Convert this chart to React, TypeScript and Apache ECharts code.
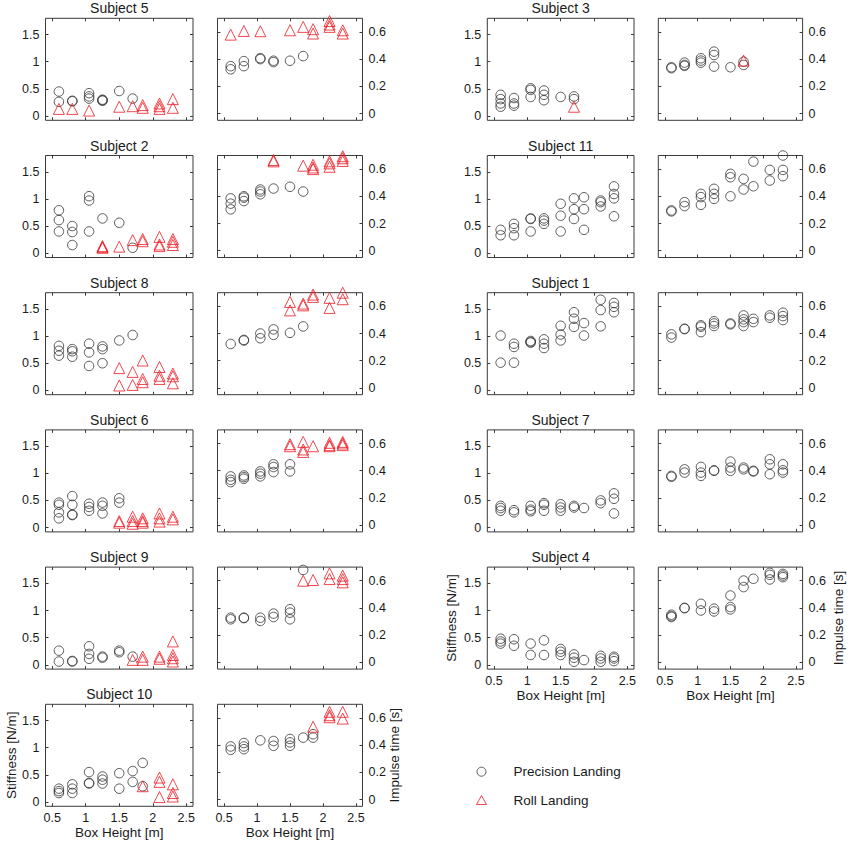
import React, { useEffect, useRef } from 'react';
import * as echarts from 'echarts';

type Pt = [number, number];

// Tick values
const boxHeightTicks = [0.5, 1, 1.5, 2, 2.5];
const stiffnessTicks = [0, 0.5, 1, 1.5];
const impulseTicks = [0, 0.2, 0.4, 0.6];

// ---- Subject 5
const s5PS: Pt[] = [[0.6,0.45],[0.6,0.26],[0.8,0.28],[0.8,0.27],[1.05,0.42],[1.05,0.36],[1.05,0.32],[1.25,0.30],[1.25,0.28],[1.25,0.29],[1.5,0.46],[1.7,0.32]];
const s5RS: Pt[] = [[0.6,0.13],[0.8,0.13],[1.05,0.10],[1.5,0.17],[1.7,0.18],[1.85,0.20],[1.85,0.15],[2.1,0.23],[2.1,0.18],[2.1,0.13],[2.3,0.31],[2.3,0.15]];
const s5PI: Pt[] = [[0.6,0.348],[0.6,0.325],[0.8,0.385],[0.8,0.348],[1.05,0.407],[1.05,0.40],[1.25,0.388],[1.25,0.378],[1.5,0.388],[1.7,0.422]];
const s5RI: Pt[] = [[0.6,0.58],[0.8,0.607],[1.05,0.605],[1.5,0.612],[1.7,0.637],[1.85,0.62],[1.85,0.588],[2.1,0.68],[2.1,0.654],[2.1,0.637],[2.3,0.612],[2.3,0.588]];

// ---- Subject 2
const s2PS: Pt[] = [[0.6,0.79],[0.6,0.61],[0.6,0.40],[0.8,0.50],[0.8,0.39],[0.8,0.15],[1.05,1.05],[1.05,0.97],[1.05,0.40],[1.25,0.64],[1.5,0.56],[1.7,0.10]];
const s2RS: Pt[] = [[1.25,0.13],[1.25,0.10],[1.25,0.11],[1.5,0.12],[1.7,0.24],[1.85,0.26],[1.85,0.22],[2.1,0.30],[2.1,0.16],[2.1,0.13],[2.3,0.26],[2.3,0.21],[2.3,0.15]];
const s2PI: Pt[] = [[0.6,0.385],[0.6,0.346],[0.6,0.304],[0.8,0.40],[0.8,0.39],[0.8,0.365],[1.05,0.45],[1.05,0.435],[1.05,0.415],[1.25,0.457],[1.5,0.47],[1.7,0.435]];
const s2RI: Pt[] = [[1.25,0.667],[1.25,0.657],[1.7,0.625],[1.85,0.632],[1.85,0.612],[1.85,0.60],[2.1,0.657],[2.1,0.642],[2.1,0.617],[2.3,0.695],[2.3,0.68],[2.3,0.66]];

// ---- Subject 8
const s8PS: Pt[] = [[0.6,0.82],[0.6,0.73],[0.6,0.64],[0.8,0.76],[0.8,0.72],[0.8,0.62],[1.05,0.86],[1.05,0.70],[1.05,0.45],[1.25,0.81],[1.25,0.76],[1.25,0.50],[1.5,0.92],[1.7,1.02]];
const s8RS: Pt[] = [[1.5,0.41],[1.5,0.09],[1.7,0.34],[1.7,0.10],[1.85,0.55],[1.85,0.21],[1.85,0.15],[2.1,0.43],[2.1,0.27],[2.1,0.21],[2.3,0.31],[2.3,0.26],[2.3,0.13]];
const s8PI: Pt[] = [[0.6,0.323],[0.8,0.353],[0.8,0.348],[1.05,0.40],[1.05,0.365],[1.25,0.43],[1.25,0.39],[1.5,0.405],[1.7,0.452]];
const s8RI: Pt[] = [[1.5,0.632],[1.5,0.57],[1.7,0.62],[1.7,0.607],[1.85,0.686],[1.85,0.669],[2.1,0.662],[2.1,0.588],[2.3,0.70],[2.3,0.652]];

// ---- Subject 6
const s6PS: Pt[] = [[0.6,0.46],[0.6,0.42],[0.6,0.28],[0.6,0.17],[0.8,0.58],[0.8,0.42],[0.8,0.23],[0.8,0.24],[1.05,0.44],[1.05,0.38],[1.05,0.31],[1.25,0.46],[1.25,0.40],[1.25,0.26],[1.5,0.54],[1.5,0.46]];
const s6RS: Pt[] = [[1.5,0.12],[1.5,0.09],[1.7,0.20],[1.7,0.12],[1.7,0.07],[1.85,0.17],[1.85,0.12],[1.85,0.09],[2.1,0.26],[2.1,0.17],[2.1,0.11],[2.3,0.20],[2.3,0.15]];
const s6PI: Pt[] = [[0.6,0.358],[0.6,0.333],[0.6,0.316],[0.8,0.365],[0.8,0.353],[0.8,0.341],[1.05,0.395],[1.05,0.378],[1.05,0.358],[1.25,0.447],[1.25,0.427],[1.25,0.39],[1.5,0.447],[1.5,0.395]];
const s6RI: Pt[] = [[1.5,0.595],[1.5,0.58],[1.7,0.612],[1.7,0.556],[1.7,0.538],[1.85,0.58],[2.1,0.605],[2.1,0.588],[2.1,0.58],[2.3,0.612],[2.3,0.60],[2.3,0.588]];

// ---- Subject 9
const s9PS: Pt[] = [[0.6,0.26],[0.6,0.06],[0.8,0.06],[0.8,0.07],[1.05,0.34],[1.05,0.20],[1.05,0.11],[1.25,0.15],[1.25,0.13],[1.5,0.26],[1.5,0.23],[1.7,0.15]];
const s9RS: Pt[] = [[1.7,0.09],[1.85,0.15],[1.85,0.09],[2.1,0.15],[2.1,0.11],[2.3,0.43],[2.3,0.18],[2.3,0.12],[2.3,0.06]];
const s9PI: Pt[] = [[0.6,0.328],[0.6,0.316],[0.8,0.328],[0.8,0.325],[1.05,0.328],[1.05,0.304],[1.25,0.358],[1.25,0.333],[1.5,0.39],[1.5,0.365],[1.5,0.316],[1.7,0.679]];
const s9RI: Pt[] = [[1.7,0.60],[1.85,0.605],[2.1,0.654],[2.1,0.612],[2.3,0.637],[2.3,0.612],[2.3,0.588]];

// ---- Subject 10
const s10PS: Pt[] = [[0.6,0.245],[0.6,0.20],[0.6,0.165],[0.8,0.325],[0.8,0.245],[0.8,0.165],[1.05,0.55],[1.05,0.34],[1.05,0.35],[1.25,0.47],[1.25,0.41],[1.25,0.34],[1.5,0.53],[1.5,0.245],[1.7,0.57],[1.7,0.37],[1.85,0.72],[1.85,0.29]];
const s10RS: Pt[] = [[1.85,0.29],[2.1,0.45],[2.1,0.37],[2.1,0.09],[2.3,0.325],[2.3,0.165],[2.3,0.10]];
const s10PI: Pt[] = [[0.6,0.39],[0.6,0.365],[0.8,0.415],[0.8,0.39],[0.8,0.37],[1.05,0.435],[1.25,0.43],[1.25,0.395],[1.5,0.445],[1.5,0.42],[1.5,0.395],[1.7,0.455],[1.85,0.48],[1.85,0.455]];
const s10RI: Pt[] = [[1.85,0.535],[2.1,0.645],[2.1,0.62],[2.1,0.605],[2.3,0.645],[2.3,0.595]];

// ---- Subject 3
const s3PS: Pt[] = [[0.6,0.39],[0.6,0.31],[0.6,0.23],[0.6,0.17],[0.8,0.33],[0.8,0.23],[0.8,0.19],[1.05,0.51],[1.05,0.48],[1.05,0.35],[1.25,0.47],[1.25,0.39],[1.25,0.29],[1.5,0.35],[1.7,0.36],[1.7,0.31]];
const s3RS: Pt[] = [[1.7,0.17]];
const s3PI: Pt[] = [[0.6,0.34],[0.6,0.333],[0.8,0.374],[0.8,0.357],[0.8,0.35],[1.05,0.406],[1.05,0.389],[1.05,0.374],[1.25,0.455],[1.25,0.43],[1.25,0.345],[1.5,0.34],[1.7,0.381],[1.7,0.357]];
const s3RI: Pt[] = [[1.7,0.389]];

// ---- Subject 11
const s11PS: Pt[] = [[0.6,0.43],[0.6,0.33],[0.8,0.54],[0.8,0.46],[0.8,0.33],[1.05,0.64],[1.05,0.63],[1.05,0.40],[1.25,0.64],[1.25,0.60],[1.25,0.54],[1.5,0.91],[1.5,0.69],[1.5,0.40],[1.7,1.01],[1.7,0.81],[1.7,0.63],[1.85,1.03],[1.85,0.81],[1.85,0.43],[2.1,0.97],[2.1,0.94],[2.1,0.86],[2.3,1.23],[2.3,1.09],[2.3,1.01],[2.3,0.68]];
const s11RS: Pt[] = [];
const s11PI: Pt[] = [[0.6,0.296],[0.6,0.289],[0.8,0.357],[0.8,0.328],[1.05,0.418],[1.05,0.394],[1.05,0.337],[1.25,0.455],[1.25,0.418],[1.25,0.381],[1.5,0.565],[1.5,0.54],[1.5,0.40],[1.7,0.528],[1.7,0.45],[1.85,0.655],[1.85,0.474],[2.1,0.594],[2.1,0.516],[2.3,0.70],[2.3,0.594],[2.3,0.548]];
const s11RI: Pt[] = [];

// ---- Subject 1
const s1PS: Pt[] = [[0.6,1.01],[0.6,0.51],[0.8,0.86],[0.8,0.80],[0.8,0.51],[1.05,0.91],[1.05,0.88],[1.05,0.89],[1.25,0.94],[1.25,0.86],[1.25,0.78],[1.5,1.19],[1.5,1.03],[1.5,0.92],[1.7,1.44],[1.7,1.32],[1.7,1.17],[1.85,1.24],[1.85,1.01],[2.1,1.67],[2.1,1.48],[2.1,1.18],[2.3,1.61],[2.3,1.54],[2.3,1.44]];
const s1RS: Pt[] = [];
const s1PI: Pt[] = [[0.6,0.394],[0.6,0.37],[0.8,0.435],[0.8,0.432],[1.05,0.46],[1.05,0.45],[1.05,0.41],[1.25,0.49],[1.25,0.474],[1.25,0.455],[1.5,0.474],[1.5,0.467],[1.7,0.533],[1.7,0.504],[1.7,0.484],[1.7,0.455],[1.85,0.508],[1.85,0.484],[2.1,0.533],[2.1,0.516],[2.3,0.553],[2.3,0.528],[2.3,0.499]];
const s1RI: Pt[] = [];

// ---- Subject 7
const s7PS: Pt[] = [[0.6,0.40],[0.6,0.36],[0.6,0.31],[0.8,0.32],[0.8,0.28],[1.05,0.40],[1.05,0.33],[1.05,0.30],[1.25,0.45],[1.25,0.42],[1.25,0.31],[1.5,0.43],[1.5,0.37],[1.5,0.31],[1.7,0.40],[1.7,0.37],[1.85,0.36],[2.1,0.50],[2.1,0.45],[2.3,0.63],[2.3,0.53],[2.3,0.26]];
const s7RS: Pt[] = [];
const s7PI: Pt[] = [[0.6,0.362],[0.6,0.355],[0.8,0.41],[0.8,0.386],[1.05,0.428],[1.05,0.386],[1.05,0.362],[1.25,0.403],[1.25,0.399],[1.5,0.467],[1.5,0.423],[1.5,0.399],[1.7,0.423],[1.7,0.41],[1.85,0.399],[1.85,0.394],[2.1,0.484],[2.1,0.447],[2.1,0.374],[2.3,0.447],[2.3,0.403],[2.3,0.386]];
const s7RI: Pt[] = [];

// ---- Subject 4
const s4PS: Pt[] = [[0.6,0.48],[0.6,0.43],[0.6,0.39],[0.8,0.47],[0.8,0.35],[1.05,0.39],[1.05,0.18],[1.25,0.45],[1.25,0.18],[1.5,0.29],[1.5,0.24],[1.5,0.18],[1.7,0.19],[1.7,0.13],[1.7,0.055],[1.85,0.086],[2.1,0.165],[2.1,0.116],[2.1,0.055],[2.3,0.147],[2.3,0.116],[2.3,0.067]];
const s4RS: Pt[] = [];
const s4PI: Pt[] = [[0.6,0.35],[0.6,0.34],[0.6,0.333],[0.8,0.40],[0.8,0.398],[1.05,0.43],[1.05,0.381],[1.25,0.394],[1.25,0.374],[1.5,0.491],[1.5,0.406],[1.5,0.389],[1.7,0.601],[1.7,0.553],[1.85,0.614],[2.1,0.658],[2.1,0.643],[2.1,0.609],[2.3,0.65],[2.3,0.638],[2.3,0.626]];
const s4RI: Pt[] = [];

const subjects = [
  { name: 'Subject 5', col: 0, row: 0, ps: s5PS, rs: s5RS, pi: s5PI, ri: s5RI },
  { name: 'Subject 2', col: 0, row: 1, ps: s2PS, rs: s2RS, pi: s2PI, ri: s2RI },
  { name: 'Subject 8', col: 0, row: 2, ps: s8PS, rs: s8RS, pi: s8PI, ri: s8RI },
  { name: 'Subject 6', col: 0, row: 3, ps: s6PS, rs: s6RS, pi: s6PI, ri: s6RI },
  { name: 'Subject 9', col: 0, row: 4, ps: s9PS, rs: s9RS, pi: s9PI, ri: s9RI },
  { name: 'Subject 10', col: 0, row: 5, ps: s10PS, rs: s10RS, pi: s10PI, ri: s10RI },
  { name: 'Subject 3', col: 1, row: 0, ps: s3PS, rs: s3RS, pi: s3PI, ri: s3RI },
  { name: 'Subject 11', col: 1, row: 1, ps: s11PS, rs: s11RS, pi: s11PI, ri: s11RI },
  { name: 'Subject 1', col: 1, row: 2, ps: s1PS, rs: s1RS, pi: s1PI, ri: s1RI },
  { name: 'Subject 7', col: 1, row: 3, ps: s7PS, rs: s7RS, pi: s7PI, ri: s7RI },
  { name: 'Subject 4', col: 1, row: 4, ps: s4PS, rs: s4RS, pi: s4PI, ri: s4RI },
];

const PRECISION = 'Precision Landing';
const ROLL = 'Roll Landing';

const FONT = '"Liberation Sans", Arial, Helvetica, sans-serif';
const TEXT = '#1a1a1a';
const FRAME = '#3a3a3a';
const CIRCLE = '#333333';
const RED = '#ec1c24';

const COLS = [
  { l: 45.5, lw: 147.5, r: 217.5, rw: 145, stiffGap: 27, impGap: 25 },
  { l: 487.3, lw: 146.7, r: 658.3, rw: 144.3, stiffGap: 29, impGap: 29 },
];
const ROW0 = 18.3;
const ROW_STEP = 137.2;
const PANEL_H = 102;
const BOTTOM_ROW = [5, 4];

const tickStyle = (vals: number[]) => ({
  show: true,
  inside: true,
  length: 3,
  customValues: vals,
  lineStyle: { color: FRAME, width: 1 },
});

function buildOption() {
  const grid: any[] = [];
  const xAxis: any[] = [];
  const yAxis: any[] = [];
  const series: any[] = [];
  const title: any[] = [];

  const xDef = (gridIndex: number, position: string, showLabel: boolean, name: string) => ({
    type: 'value',
    gridIndex,
    position,
    min: 0.4,
    max: 2.6,
    axisLine: { show: false, onZero: false },
    splitLine: { show: false },
    axisTick: tickStyle(boxHeightTicks),
    axisLabel: {
      show: showLabel,
      customValues: boxHeightTicks,
      margin: 5,
      fontSize: 12.5,
      color: TEXT,
      fontFamily: FONT,
    },
    name,
    nameLocation: 'middle',
    nameGap: 19,
    nameMoveOverlap: false,
    nameTextStyle: { fontSize: 13.5, color: TEXT, fontFamily: FONT },
  });

  const yDef = (
    gridIndex: number,
    position: string,
    min: number,
    max: number,
    ticks: number[],
    showLabel: boolean,
    name: string,
    nameGap: number,
  ) => ({
    type: 'value',
    gridIndex,
    position,
    min,
    max,
    axisLine: { show: false, onZero: false },
    splitLine: { show: false },
    axisTick: tickStyle(ticks),
    axisLabel: {
      show: showLabel,
      customValues: ticks,
      margin: 6,
      fontSize: 12.5,
      color: TEXT,
      fontFamily: FONT,
    },
    name,
    nameLocation: 'middle',
    nameRotate: 90,
    nameGap,
    nameMoveOverlap: false,
    nameTextStyle: { fontSize: 13.5, color: TEXT, fontFamily: FONT },
  });

  const scatter = (name: string, data: Pt[], xi: number, yi: number) => ({
    type: 'scatter',
    name,
    data,
    xAxisIndex: xi,
    yAxisIndex: yi,
    symbol: name === PRECISION ? 'circle' : 'triangle',
    symbolSize: name === PRECISION ? 9.5 : 11,
    itemStyle: {
      color: 'rgba(255,255,255,0)',
      borderColor: name === PRECISION ? CIRCLE : RED,
      borderWidth: 1,
    },
    emphasis: { disabled: true },
    silent: true,
  });

  subjects.forEach((s) => {
    const c = COLS[s.col];
    const top = ROW0 + ROW_STEP * s.row;
    const isBottom = s.row === BOTTOM_ROW[s.col];

    title.push({
      text: s.name,
      left: c.l + c.lw / 2,
      top: top - 17,
      textAlign: 'center',
      padding: 0,
      textStyle: { fontSize: 14, fontWeight: 'normal', color: TEXT, fontFamily: FONT },
    });

    const panels = [
      { left: c.l, width: c.lw, kind: 'stiff' },
      { left: c.r, width: c.rw, kind: 'imp' },
    ];
    panels.forEach((p) => {
      const g = grid.length;
      grid.push({
        left: p.left,
        top,
        width: p.width,
        height: PANEL_H,
        show: true,
        borderColor: FRAME,
        borderWidth: 1,
        backgroundColor: 'rgba(0,0,0,0)',
        containLabel: false,
        outerBoundsMode: 'none',
      });
      const xi = xAxis.length;
      xAxis.push(xDef(g, 'bottom', isBottom, isBottom ? 'Box Height [m]' : ''));
      xAxis.push(xDef(g, 'top', false, ''));
      const yi = yAxis.length;
      if (p.kind === 'stiff') {
        yAxis.push(yDef(g, 'left', -0.08, 1.8, stiffnessTicks, true, isBottom ? 'Stiffness [N/m]' : '', c.stiffGap));
        yAxis.push(yDef(g, 'right', -0.08, 1.8, stiffnessTicks, false, '', 10));
        series.push(scatter(PRECISION, s.ps, xi, yi));
        series.push(scatter(ROLL, s.rs, xi, yi));
      } else {
        yAxis.push(yDef(g, 'right', -0.05, 0.7, impulseTicks, true, isBottom ? 'Impulse time [s]' : '', c.impGap));
        yAxis.push(yDef(g, 'left', -0.05, 0.7, impulseTicks, false, '', 10));
        series.push(scatter(PRECISION, s.pi, xi, yi));
        series.push(scatter(ROLL, s.ri, xi, yi));
      }
    });
  });

  return {
    animation: false,
    backgroundColor: '#ffffff',
    textStyle: { fontFamily: FONT },
    title,
    grid,
    xAxis,
    yAxis,
    series,
    legend: {
      orient: 'vertical',
      left: 476,
      top: 763.7,
      padding: 0,
      itemWidth: 10,
      itemHeight: 9,
      itemGap: 12.3,
      selectedMode: false,
      data: [
        { name: PRECISION, icon: 'circle', itemStyle: { color: 'rgba(255,255,255,0)', borderColor: CIRCLE, borderWidth: 1 } },
        { name: ROLL, icon: 'triangle', itemStyle: { color: 'rgba(255,255,255,0)', borderColor: RED, borderWidth: 1 } },
      ],
      textStyle: { fontSize: 13.5, color: TEXT, fontFamily: FONT, lineHeight: 16, padding: [0, 0, 0, 22] },
    },
  };
}

export default function App() {
  const ref = useRef<HTMLDivElement>(null);
  useEffect(() => {
    if (!ref.current) return;
    const chart = echarts.init(ref.current, null, { renderer: 'svg' });
    chart.setOption(buildOption() as any);
    return () => {
      chart.dispose();
    };
  }, []);
  return (
    <div
      ref={ref}
      style={{ position: 'absolute', left: 0, top: 0, width: 851, height: 844, background: '#fff' }}
    />
  );
}
